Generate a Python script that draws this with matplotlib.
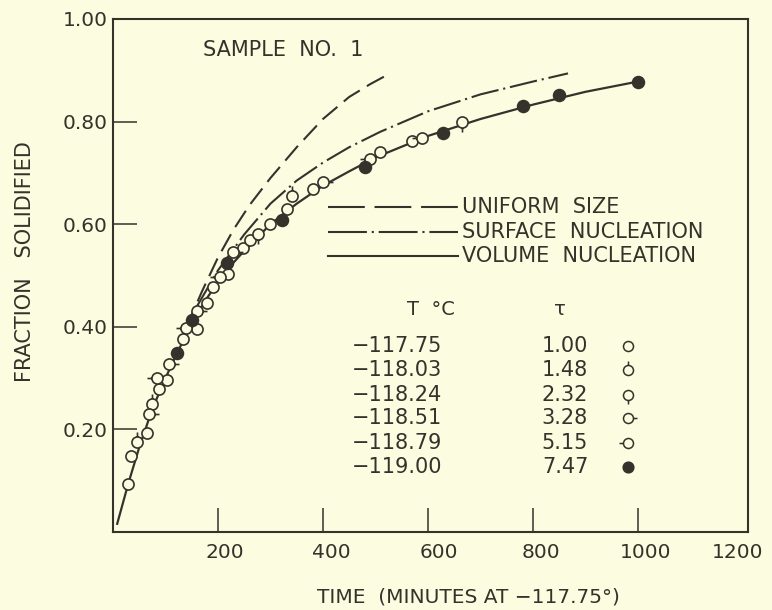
import matplotlib
matplotlib.use("Agg")
import matplotlib.pyplot as plt
from matplotlib.path import Path
from matplotlib.transforms import ScaledTranslation

BG = "#fcfce0"
INK = "#33332c"

plt.rcParams["font.family"] = ["DejaVu Sans"]
plt.rcParams["lines.scale_dashes"] = False

# fitted curves (time in minutes at -117.75 C, fraction solidified)
vol_t = [8, 29, 50, 75, 100, 125, 150, 175, 200, 225, 250, 300, 350, 400,
         450, 500, 600, 700, 800, 900, 1000]
vol_f = [0.016, 0.094, 0.165, 0.24, 0.30, 0.355, 0.405, 0.45, 0.487, 0.52,
         0.548, 0.60, 0.64, 0.675, 0.703, 0.73, 0.772, 0.805, 0.833, 0.858, 0.878]

uni_t = [140, 170, 200, 230, 260, 300, 350, 400, 450, 490, 528]
uni_f = [0.40, 0.47, 0.535, 0.59, 0.637, 0.69, 0.75, 0.805, 0.848, 0.873, 0.894]

surf_t = [160, 200, 250, 300, 350, 400, 450, 509, 600, 700, 800, 867]
surf_f = [0.44, 0.51, 0.58, 0.64, 0.685, 0.72, 0.75, 0.78, 0.82, 0.853, 0.878, 0.894]

# measured points, grouped by run temperature
temps = ["\u2212117.75", "\u2212118.03", "\u2212118.24", "\u2212118.51", "\u2212118.79", "\u2212119.00"]
taus = ["1.00", "1.48", "2.32", "3.28", "5.15", "7.47"]

t_1 = [29, 34, 64, 88, 103, 133, 160, 179, 190, 219, 248, 261, 299, 331, 381, 509, 570]
f_1 = [0.094, 0.149, 0.193, 0.278, 0.296, 0.376, 0.396, 0.447, 0.478, 0.502,
       0.553, 0.57, 0.60, 0.63, 0.668, 0.741, 0.763]
t_2 = [46, 74, 341]
f_2 = [0.175, 0.25, 0.655]
t_3 = [276, 665]
f_3 = [0.58, 0.80]
t_4 = [69, 107, 160, 229, 400]
f_4 = [0.23, 0.327, 0.43, 0.545, 0.682]
t_5 = [84, 140, 204, 490, 588]
f_5 = [0.30, 0.397, 0.498, 0.727, 0.769]
t_6 = [121, 150, 217, 322, 480, 629, 781, 850, 1000]
f_6 = [0.348, 0.414, 0.525, 0.608, 0.712, 0.778, 0.831, 0.851, 0.878]


def stem_marker(dx, dy):
    circ = Path.unit_circle()
    stem = Path([(dx, dy), (1.8 * dx, 1.8 * dy)], [Path.MOVETO, Path.LINETO])
    return Path.make_compound_path(circ, stem)


MS = 8.0
styles = [
    dict(marker="o", ms=MS, mfc=BG),
    dict(marker=stem_marker(0, 1), ms=MS * 1.8, mfc=BG),
    dict(marker=stem_marker(0, -1), ms=MS * 1.8, mfc=BG),
    dict(marker=stem_marker(1, 0), ms=MS * 1.8, mfc=BG),
    dict(marker=stem_marker(-1, 0), ms=MS * 1.8, mfc=BG),
    dict(marker="o", ms=MS + 0.5, mfc=INK),
]
series = [(t_1, f_1), (t_2, f_2), (t_3, f_3), (t_4, f_4), (t_5, f_5), (t_6, f_6)]

fig = plt.figure(figsize=(7.72, 6.10), dpi=100, facecolor=BG)
ax = fig.add_axes([113 / 772, 1 - 532 / 610, 635 / 772, 513 / 610], facecolor=BG)

dash = (0, (14, 6))
dashdot = (0, (20, 3.5, 1.5, 3.5))
ax.plot(uni_t, uni_f, color=INK, lw=1.5, ls=dash)
ax.plot(surf_t, surf_f, color=INK, lw=1.5, ls=dashdot)
ax.plot(vol_t, vol_f, color=INK, lw=1.6)

for (t, f), st in zip(series, styles):
    ax.plot(t, f, ls="none", mec=INK, mew=1.2, zorder=3, **st)

# key for the three curves
ax.plot([410, 657], [0.634, 0.634], color=INK, lw=1.5, ls=(0, (26.5, 7)))
ax.plot([410, 657], [0.585, 0.585], color=INK, lw=1.5, ls=(0, (28, 3.5, 1.5, 3.5)))
ax.plot([410, 657], [0.538, 0.538], color=INK, lw=1.5)
fs = 15
for y, s in zip([0.634, 0.585, 0.538], ["UNIFORM  SIZE", "SURFACE  NUCLEATION", "VOLUME  NUCLEATION"]):
    ax.text(665, y, s, fontsize=fs, color=INK, va="center", ha="left")

ax.text(171, 0.94, "SAMPLE  NO.  1", fontsize=fs, color=INK, va="center", ha="left")

# table of runs
ax.text(560, 0.433, "T  \u00b0C", fontsize=fs - 1, color=INK, va="center", ha="left")
ax.text(852, 0.433, "\u03c4", fontsize=fs - 1, color=INK, va="center", ha="center")
row_y = [0.363, 0.316, 0.267, 0.222, 0.173, 0.127]
for y, T, tau, st in zip(row_y, temps, taus, styles):
    ax.text(455, y, T, fontsize=fs, color=INK, va="center", ha="left")
    ax.text(817, y, tau, fontsize=fs, color=INK, va="center", ha="left")
    s = dict(st)
    s["ms"] = s["ms"] * 0.9
    ax.plot([981], [y], ls="none", mec=INK, mew=1.1, **s)

ax.set_xlim(0, 1210)
ax.set_ylim(0, 1.0)
ax.set_xticks([200, 400, 600, 800, 1000, 1200])
ax.set_xticklabels(["200", "400", "600", "800", "1000", "1200"])
ax.set_yticks([0.2, 0.4, 0.6, 0.8, 1.0])
ax.set_yticklabels(["0.20", "0.40", "0.60", "0.80", "1.00"])
ax.tick_params(direction="in", length=17, width=1.1, colors=INK, labelsize=14.5)
ax.tick_params(axis="y", pad=4)
ax.tick_params(axis="x", pad=8)
ax.xaxis.get_major_ticks()[-1].tick1line.set_visible(False)
ax.yaxis.get_major_ticks()[-1].tick1line.set_visible(False)
for lab, dx in zip(ax.get_xticklabels(), [7, 8, 11, 8, 8, -5]):
    lab.set_transform(lab.get_transform() + ScaledTranslation(dx / 100, 0, fig.dpi_scale_trans))
for sp in ax.spines.values():
    sp.set_color(INK)
    sp.set_linewidth(1.5)

fig.text(317 / 772, 1 - 597 / 610, "TIME  (MINUTES AT \u2212117.75\u00b0)", fontsize=fs - 0.5,
         color=INK, va="center", ha="left")
fig.text(25 / 772, 1 - 262 / 610, "FRACTION   SOLIDIFIED", fontsize=fs, color=INK,
         va="center", ha="center", rotation=90)

fig.savefig("out.png", dpi=100, facecolor=BG)
